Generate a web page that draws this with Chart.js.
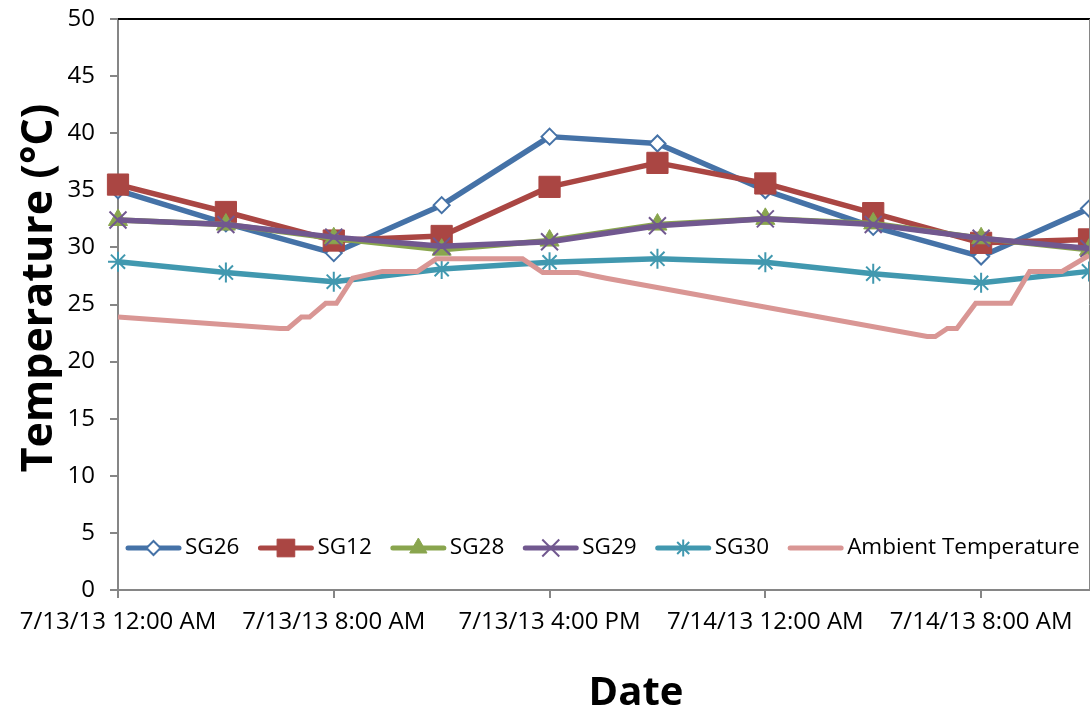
<!DOCTYPE html>
<html>
<head>
<meta charset="utf-8">
<script src="https://cdn.jsdelivr.net/npm/chart.js@4.4.1/dist/chart.umd.min.js"></script>
<style>
  html, body { margin: 0; padding: 0; background: #ffffff; }
  #wrap { width: 1090px; height: 715px; }
</style>
</head>
<body>
<div id="wrap"><canvas id="c" width="1090" height="715"></canvas></div>
<script>
// Strain-gauge readings every 4 hours (hours since 7/13/13 12:00 AM), in °C
const sampleHours = [0, 4, 8, 12, 16, 20, 24, 28, 32, 36];
const sg26 = [35.0, 32.1, 29.5, 33.7, 39.7, 39.1, 35.0, 31.8, 29.2, 33.4];
const sg12 = [35.5, 33.1, 30.6, 31.0, 35.3, 37.4, 35.6, 33.0, 30.4, 30.7];
const sg28 = [32.4, 32.0, 30.8, 29.8, 30.6, 32.0, 32.5, 32.1, 30.8, 29.8];
const sg29 = [32.4, 32.0, 30.9, 30.1, 30.5, 31.9, 32.5, 32.0, 30.8, 29.9];
const sg30 = [28.75, 27.8, 27.0, 28.1, 28.7, 29.0, 28.7, 27.7, 26.9, 27.9];

// Ambient readings at irregular times
const ambientHours = [0, 6.0, 6.3, 6.8, 7.1, 7.7, 8.1, 8.7, 9.8, 11.1, 11.8, 15.0, 15.75, 17.05, 18.1,
                      30.0, 30.3, 30.75, 31.1, 31.8, 33.1, 33.8, 35.0, 36.0];
const ambientTemps = [23.9, 22.9, 22.9, 23.9, 23.9, 25.1, 25.1, 27.3, 27.9, 27.9, 29.0, 29.0, 27.8, 27.8, 27.3,
                      22.2, 22.2, 22.9, 22.9, 25.1, 25.1, 27.9, 27.9, 29.3];

const seriesNames = ['SG26', 'SG12', 'SG28', 'SG29', 'SG30', 'Ambient Temperature'];

// Axis ticks
const xTickHours = [0, 8, 16, 24, 32];
const xTickLabels = ['7/13/13 12:00 AM', '7/13/13 8:00 AM', '7/13/13 4:00 PM', '7/14/13 12:00 AM', '7/14/13 8:00 AM'];
const yMin = 0, yMax = 50, yStep = 5;
const xMin = 0, xMax = 36;

const FONT = "'Open Sans', 'DejaVu Sans', sans-serif";
const AXIS_GREY = '#868686';

const pair = (xs, ys) => xs.map((x, i) => ({ x: x, y: ys[i] }));

const styles = [
  { color: '#4572A7', pointStyle: 'rectRot',  radius: 8,   fill: '#ffffff', pw: 2, lr: 7 },
  { color: '#AA4643', pointStyle: 'rect',     radius: 15,  fill: '#AA4643', pw: 1, lr: 12.5 },
  { color: '#89A54E', pointStyle: 'triangle', radius: 11,  fill: '#89A54E', pw: 1, lr: 10 },
  { color: '#71588F', pointStyle: 'crossRot', radius: 12,  fill: '#71588F', pw: 2, lr: 12 },
  { color: '#4198AF', pointStyle: 'star',     radius: 10,  fill: '#4198AF', pw: 2, lr: 8.5 },
  { color: '#D99694', pointStyle: false,      radius: 0,   fill: '#D99694', pw: 0, lr: 0 }
];

const seriesValues = [sg26, sg12, sg28, sg29, sg30];

const datasets = seriesValues.map((vals, i) => ({
  label: seriesNames[i],
  data: pair(sampleHours, vals),
  borderColor: styles[i].color,
  borderWidth: 5.5,
  borderJoinStyle: 'round',
  pointStyle: styles[i].pointStyle,
  pointRadius: styles[i].radius,
  pointHoverRadius: styles[i].radius,
  pointBackgroundColor: styles[i].fill,
  pointBorderColor: styles[i].color,
  pointBorderWidth: styles[i].pw,
  tension: 0,
  clip: false,
  order: 5 - i
}));
datasets.push({
  label: seriesNames[5],
  data: pair(ambientHours, ambientTemps),
  borderColor: styles[5].color,
  borderWidth: 5,
  pointRadius: 0,
  tension: 0,
  clip: false,
  order: 0
});

// Legend drawn inside the plot area: line sample with marker, then name
const insideLegend = {
  id: 'insideLegend',
  afterDraw(chart) {
    const ctx = chart.ctx;
    const area = chart.chartArea;
    const y = 548;
    let x = area.left + 8;
    const lineLen = 55, textGap = 4, itemGap = 19;
    ctx.save();
    ctx.font = '22.5px ' + FONT;
    ctx.textBaseline = 'middle';
    ctx.textAlign = 'left';
    chart.data.datasets.forEach((ds, i) => {
      const st = styles[i];
      ctx.strokeStyle = st.color;
      ctx.lineWidth = 5;
      ctx.lineCap = 'round';
      ctx.beginPath();
      ctx.moveTo(x + 2, y);
      ctx.lineTo(x + lineLen - 2, y);
      ctx.stroke();
      if (st.pointStyle) {
        ctx.lineCap = 'butt';
        ctx.fillStyle = st.fill;
        ctx.strokeStyle = st.color;
        ctx.lineWidth = st.pw;
        Chart.helpers.drawPoint(ctx, { pointStyle: st.pointStyle, radius: st.lr, rotation: 0, borderWidth: st.pw }, x + lineLen / 2, y);
      }
      ctx.fillStyle = '#000000';
      const tx = x + lineLen + textGap;
      ctx.fillText(ds.label, tx, y);
      x = tx + ctx.measureText(ds.label).width + itemGap;
    });
    ctx.restore();
  }
};

// Plot frame (top and right edges) and the two axis titles
const frameAndTitles = {
  id: 'frameAndTitles',
  afterDraw(chart) {
    const ctx = chart.ctx;
    const a = chart.chartArea;
    ctx.save();
    ctx.strokeStyle = '#000000';
    ctx.lineWidth = 2;
    ctx.beginPath();
    ctx.moveTo(a.left, a.top);
    ctx.lineTo(chart.width, a.top);
    ctx.stroke();
    ctx.strokeStyle = AXIS_GREY;
    ctx.lineWidth = 1;
    ctx.beginPath();
    ctx.moveTo(a.right + 0.5, a.top);
    ctx.lineTo(a.right + 0.5, a.bottom);
    ctx.stroke();

    ctx.fillStyle = '#000000';
    ctx.font = 'bold 40px ' + FONT;
    ctx.textAlign = 'center';
    ctx.textBaseline = 'alphabetic';
    ctx.fillText('Date', 636, 705);

    ctx.font = 'bold 43px ' + FONT;
    ctx.translate(52, 288);
    ctx.rotate(-Math.PI / 2);
    ctx.fillText('Temperature (°C)', 0, 0);
    ctx.restore();
  }
};

function build() {
  new Chart(document.getElementById('c'), {
    type: 'line',
    data: { datasets: datasets },
    options: {
      responsive: false,
      animation: false,
      events: [],
      layout: { autoPadding: false, padding: { top: 19, right: 1, left: 0, bottom: 0 } },
      plugins: { legend: { display: false }, tooltip: { enabled: false }, title: { display: false } },
      scales: {
        x: {
          type: 'linear',
          min: xMin,
          max: xMax,
          afterBuildTicks: (s) => { s.ticks = xTickHours.map(v => ({ value: v })); },
          afterFit: (s) => { s.height = 125; s.paddingLeft = 0; s.paddingRight = 0; },
          ticks: {
            autoSkip: false,
            minRotation: 0,
            maxRotation: 0,
            padding: 10,
            color: '#000000',
            font: { family: FONT, size: 24 },
            callback: (v) => xTickLabels[xTickHours.indexOf(v)]
          },
          grid: { drawOnChartArea: false, drawTicks: true, tickLength: 8, color: AXIS_GREY, lineWidth: 2 },
          border: { display: true, color: AXIS_GREY, width: 2 }
        },
        y: {
          min: yMin,
          max: yMax,
          afterFit: (s) => { s.width = 118; s.paddingTop = 0; s.paddingBottom = 0; },
          ticks: {
            stepSize: yStep,
            padding: 15,
            color: '#000000',
            font: { family: FONT, size: 24 }
          },
          grid: { drawOnChartArea: false, drawTicks: true, tickLength: 8, color: AXIS_GREY, lineWidth: 2 },
          border: { display: true, color: AXIS_GREY, width: 2 }
        }
      }
    },
    plugins: [insideLegend, frameAndTitles]
  });
}

const fontLoads = document.fonts
  ? Promise.all([
      document.fonts.load("24px 'Open Sans'"),
      document.fonts.load("bold 40px 'Open Sans'")
    ]).catch(() => {})
  : Promise.resolve();
fontLoads.then(build, build);
</script>
</body>
</html>
